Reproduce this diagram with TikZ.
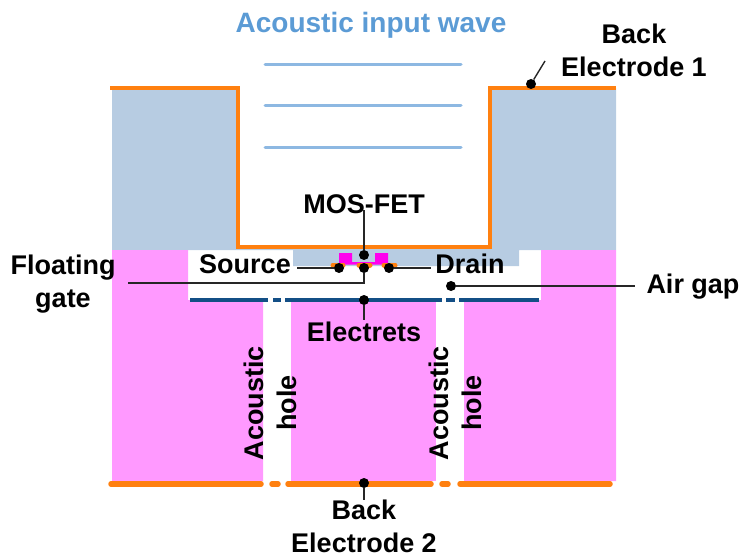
\documentclass[tikz,border=0pt]{standalone}
\usepackage{fontspec}
\setmainfont{Liberation Sans}
\usetikzlibrary{positioning}
\definecolor{plateblue}{HTML}{B7CCE2}
\definecolor{bodypink}{HTML}{FF99FF}
\definecolor{wireorange}{HTML}{FF8010}
\definecolor{waveblue}{HTML}{8DB8E2}
\definecolor{titleblue}{HTML}{5B9BD5}
\definecolor{electretblue}{HTML}{134F86}
\definecolor{gatepink}{HTML}{FF00EE}
\tikzset{
  lbl/.style = {font=\fontsize{27}{33}\selectfont\bfseries, align=center, inner sep=0pt},
  dot/.style = {circle, fill=black, minimum size=10pt, inner sep=0pt},
  lead/.style = {draw=black!85, line width=1.4pt},
  wave/.style = {draw=waveblue, line width=3pt, line cap=round},
  electrode/.style = {draw=wireorange, line width=5.5pt, line cap=round},
  electret/.style = {draw=electretblue, line width=3.6pt}
}
\begin{document}
\begin{tikzpicture}[x=1pt, y=-1pt]
  \useasboundingbox (0,0) rectangle (741,556);
  % blocks
  \fill[plateblue] (112,88) -- (238,88) -- (238,247) -- (490,247) -- (490,88) -- (616,88) -- (616,250)
    -- (519,250) -- (519,266) -- (293,266) -- (293,250) -- (112,250) -- cycle;
  \fill[bodypink] (112,250) -- (188,250) -- (188,300) -- (263,300) -- (263,481) -- (112,481) -- cycle;
  \fill[bodypink] (291,300) rectangle (436,481);
  \fill[bodypink] (464,300) -- (541,300) -- (541,250) -- (616,250) -- (616,481) -- (464,481) -- cycle;

  % top electrode
  \coordinate (T1) at (110,88);
  \coordinate (T2) at (616,88);
  \draw[draw=wireorange, line width=4pt, line join=miter] (T1) -- (238,88) -- (238,247) -- (490,247) -- (490,88) -- (T2);

  % acoustic wave
  \foreach \y in {65,106,148}
    \draw[wave] (265,\y) -- (461,\y);

  % bottom electrode
  \foreach \a/\b in {111/261, 272/278, 288/431, 442/448, 460/610}
    \draw[electrode] (\a,484) -- (\b,484);

  % electrets
  \foreach \a/\b in {190/268, 273/281, 285/442, 446/455, 459/539}
    \draw[electret] (\a,300) -- (\b,300);

  % transistor
  \fill[gatepink] (339,253) -- (352,253) -- (352,262) -- (375,262) -- (375,253) -- (388,253)
    -- (388,264.5) -- (339,264.5) -- cycle;
  \foreach \a/\b in {333/343, 359/370, 384/395}
    \draw[draw=wireorange, line width=5pt, line cap=round] (\a,265) -- (\b,265);

  % dots
  \node[dot] (Dgate) at (364,255) {};
  \node[dot] (Dsource) at (339,268) {};
  \node[dot] (Dfloat) at (364,268) {};
  \node[dot] (Ddrain) at (389,268) {};
  \node[dot] (Dair) at (451,286) {};
  \node[dot] (Delectret) at (364,300) {};
  \node[dot] (Dback1) at (531,84) {};
  \node[dot] (Dback2) at (364,483) {};

  % labels
  \node[lbl, text=titleblue, font=\fontsize{28}{33}\selectfont\bfseries] (Lwave) at (371,25) {Acoustic input wave};
  \node[lbl] (Lback1) at (634,50) {Back\\Electrode 1};
  \node[lbl] (Lmos) at (364,204) {MOS-FET};
  \node[lbl] (Lsource) at (245,264) {Source};
  \node[lbl] (Ldrain) at (470,264) {Drain};
  \node[lbl] (Lfloat) at (63,284) {Floating\\gate};
  \node[lbl] (Lair) at (693,287) {Air gap};
  \node[lbl] (Lelectret) at (364,332) {Electrets};
  \node[lbl, rotate=90] (Lhole1) at (270,403) {Acoustic\\hole};
  \node[lbl, rotate=90] (Lhole2) at (455,403) {Acoustic\\hole};
  \node[lbl] (Lback2) at (364,526) {Back\\Electrode 2};

  % leads
  \coordinate (Cback1) at (545,61);
  \coordinate (Cmos) at (364,210);
  \coordinate (Csource) at (297,268);
  \coordinate (Cdrain) at (431,268);
  \coordinate (Cfloat) at (128,283);
  \coordinate (Cair) at (635,286);
  \coordinate (Celectret) at (364,320);
  \coordinate (Cback2) at (364,500);
  \draw[lead] (Dback1) -- (Cback1);
  \draw[lead] (Dgate) -- (Cmos);
  \draw[lead] (Dsource) -- (Csource);
  \draw[lead] (Ddrain) -- (Cdrain);
  \draw[lead] (Dfloat) |- (Cfloat);
  \draw[lead] (Dair) -- (Cair);
  \draw[lead] (Delectret) -- (Celectret);
  \draw[lead] (Dback2) -- (Cback2);
\end{tikzpicture}
\end{document}
